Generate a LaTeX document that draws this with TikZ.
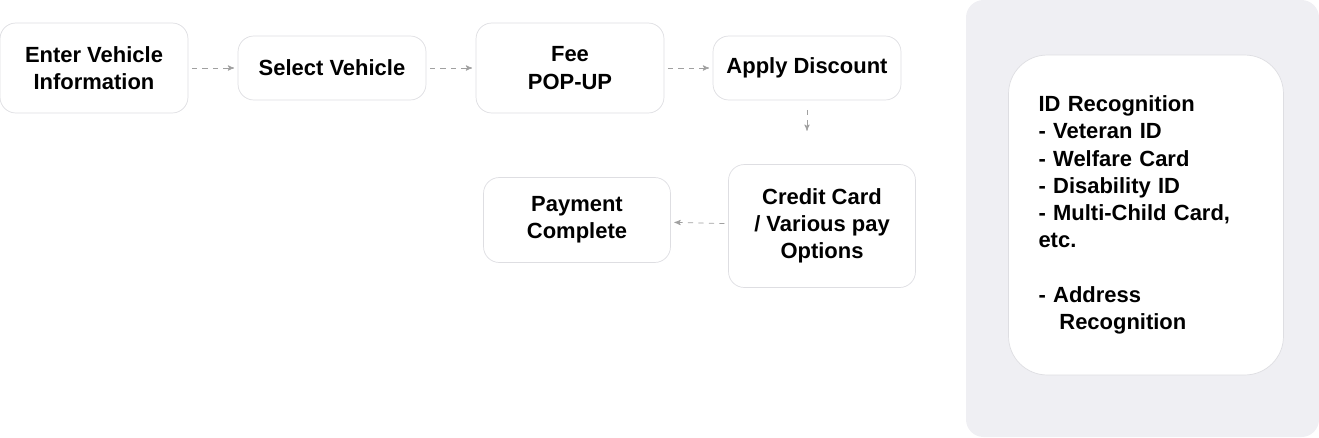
\documentclass[tikz,border=0pt]{standalone}
\usepackage{fontspec}
\setmainfont{Liberation Sans}
\usetikzlibrary{arrows,positioning}
\definecolor{boxline}{RGB}{222,222,226}
\definecolor{panelbg}{RGB}{239,239,243}
\definecolor{arrowgray}{RGB}{160,160,160}
\tikzset{>=stealth',
         stepbox/.style={draw=boxline, rounded corners=9pt, fill=white, align=center,
                         font=\fontsize{12.5}{15.5}\selectfont\bfseries, inner sep=0pt},
         flow/.style={->, dashed, draw=arrowgray, shorten >=2pt, shorten <=2pt}}

\begin{document}
\begin{tikzpicture}[x=0.02cm, y=-0.02cm]
  \useasboundingbox (0,0) rectangle (1319,437);
  \fill[panelbg, rounded corners=10pt] (966,0) rectangle (1319,437);
  \node[stepbox, minimum width=3.76cm, minimum height=1.8cm] (enter) at (94,68) {Enter Vehicle\\Information};
  \node[stepbox, minimum width=3.76cm, minimum height=1.28cm] (select) at (332,68) {Select Vehicle};
  \node[stepbox, minimum width=3.76cm, minimum height=1.8cm] (fee) at (570,68) {Fee\\POP-UP};
  \node[stepbox, minimum width=3.76cm, minimum height=1.28cm] (discount) at (807,68) {Apply Discount};
  \node[stepbox, minimum width=3.74cm, minimum height=2.46cm] (card) at (822,226) {Credit Card\\/ Various pay\\Options};
  \node[stepbox, minimum width=3.74cm, minimum height=1.7cm] (done) at (577,220) {Payment\\Complete};
  \node[stepbox, rounded corners=22pt, align=left, minimum width=5.5cm, minimum height=6.4cm,
        text width=4.3cm] (recog) at (1146,215)
        {ID Recognition\\- Veteran ID\\- Welfare Card\\- Disability ID\\- Multi-Child Card,\\etc.\\[15.5pt]- Address\\\hspace*{0.95em}Recognition};
  % flow
  \draw[flow] (enter) -- (select);
  \draw[flow] (select) -- (fee);
  \draw[flow] (fee) -- (discount);
  \draw[flow] (discount.south) ++(0,6) coordinate (d1) (d1) -- ++(0,28) coordinate (d2);
  \draw[flow] (card) -- (done);
\end{tikzpicture}
\end{document}
